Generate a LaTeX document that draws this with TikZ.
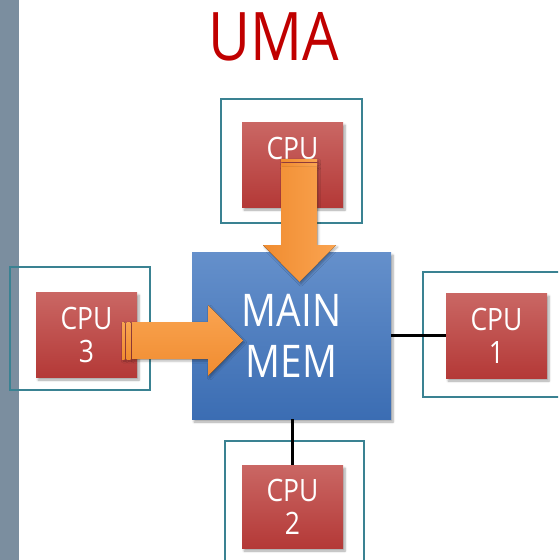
\documentclass[tikz,border=0pt]{standalone}
\usepackage{fontspec}
\setmainfont{Open Sans}[FakeStretch=0.86]
\usetikzlibrary{shadows.blur}

\definecolor{sidebar}{HTML}{7B8E9F}
\definecolor{frameteal}{HTML}{3A8292}
\definecolor{cputop}{HTML}{CA6764}
\definecolor{cpubot}{HTML}{B43937}
\definecolor{memtop}{HTML}{6590CB}
\definecolor{membot}{HTML}{3B6DB3}
\definecolor{arrowlight}{HTML}{FAA451}
\definecolor{arrowdark}{HTML}{F08C30}
\definecolor{titlered}{HTML}{C00000}

\tikzset{
  cpubox/.style={rectangle, inner sep=0pt, minimum width=101pt, minimum height=85pt,
    top color=cputop, bottom color=cpubot, text=white, align=center,
    font=\fontsize{30.8}{33}\selectfont,
    blur shadow={shadow xshift=2pt, shadow yshift=-3pt, shadow blur steps=6, shadow opacity=35}},
  membox/.style={rectangle, inner sep=0pt, minimum width=199pt, minimum height=167pt,
    top color=memtop, bottom color=membot, text=white, align=center,
    font=\fontsize{45}{51}\selectfont,
    blur shadow={shadow xshift=2pt, shadow yshift=-3pt, shadow blur steps=6, shadow opacity=35}},
  framebox/.style={rectangle, draw=frameteal, line width=2.2pt, inner sep=0pt},
  bus/.style={draw=black, line width=2.2pt},
  vshaft/.style={left color=arrowdark, right color=arrowlight,
    blur shadow={shadow xshift=1.5pt, shadow yshift=-2pt, shadow blur steps=4, shadow opacity=30}},
  hshaft/.style={top color=arrowlight, bottom color=arrowdark,
    blur shadow={shadow xshift=1.5pt, shadow yshift=-2pt, shadow blur steps=4, shadow opacity=30}},
}

\begin{document}
\begin{tikzpicture}[x=1pt, y=-1pt]
\useasboundingbox (0,0) rectangle (558,560);
\clip (0,0) rectangle (558,560);

% side bar
\fill[sidebar] (0,0) rectangle (19,560);

% title
\node[inner sep=0pt, text=titlered, font=\fontsize{67}{67}\selectfont] (title) at (273.5,37) {UMA};

% outline frames around the processors
\node[framebox, minimum width=141pt, minimum height=124pt] (frameTop)    at (291.5,161)   {};
\node[framebox, minimum width=140pt, minimum height=123pt] (frameLeft)   at (80,328.5)    {};
\node[framebox, minimum width=147pt, minimum height=125pt] (frameRight)  at (496.5,334.5) {};
\node[framebox, minimum width=139pt, minimum height=134pt] (frameBottom) at (294.5,508)   {};

% processors
\node[cpubox] (cpuTop)    at (292.5,164.5) {CPU\\\phantom{0}};
\node[cpubox] (cpu3)      at (86.5,334.5)  {CPU\\3};
\node[cpubox] (cpu1)      at (496.5,335.5) {CPU\\1};
\node[cpubox, minimum height=83pt] (cpu2) at (292.5,506.5) {CPU\\2};

% shared memory
\node[membox] (mem) at (291.5,335.5) {MAIN\\MEM};

% bus lines
\draw[bus] (mem) -- (cpu1);
\draw[bus] (cpu2.north) -- (cpu2.north |- mem.south);

% striped block arrow from the top CPU into memory
\fill[vshaft] (281,159) rectangle (317,161.5);
\fill[vshaft] (281,163) rectangle (317,166);
\fill[vshaft] (281,167) -- (317,167) -- (317,245) -- (336,245) -- (299.5,282)
  -- (263,245) -- (281,245) -- cycle;

% striped block arrow from CPU 3 into memory
\fill[hshaft] (122,322) rectangle (124.5,359);
\fill[hshaft] (126.5,322) rectangle (130.5,359);
\fill[hshaft] (132,322) -- (208,322) -- (208,305) -- (243,340.5) -- (208,376)
  -- (208,359) -- (132,359) -- cycle;
\end{tikzpicture}
\end{document}
